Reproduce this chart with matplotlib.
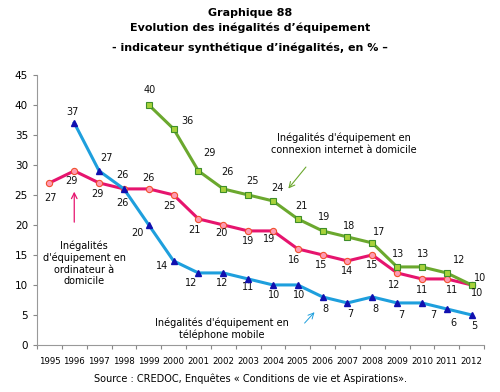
import numpy as np
import matplotlib
matplotlib.use("Agg")
import matplotlib.pyplot as plt

years = list(range(1995, 2013))

# ordinateur a domicile (1995-2012)
ordi = [27, 29, 27, 26, 26, 25, 21, 20, 19, 19, 16, 15, 14, 15, 12, 11, 11, 10]
ordi_lbl = ["27", "29", "29", "26", "26", "25", "21", "20", "19", "19", "16", "15", "14", "15", "12", "11", "11", "10"]
# telephone mobile (1996-2012)
mobile = [37, 29, 26, 20, 14, 12, 12, 11, 10, 10, 8, 7, 8, 7, 7, 6, 5]
mobile_lbl = ["37", "27", "26", "20", "14", "12", "12", "11", "10", "10", "8", "7", "8", "7", "7", "6", "5"]
# connexion internet (1999-2012)
internet = [40, 36, 29, 26, 25, 24, 21, 19, 18, 17, 13, 13, 12, 10]
internet_lbl = ["40", "36", "29", "26", "25", "24", "21", "19", "18", "17", "13", "13", "12", "10"]

# label offsets in points (dx, dy)
ordi_off = [(1, -11), (-2, -7), (-1, -8), (-1, -10), (0, 8), (-3, -8), (-3, -8), (-1, -6), (0, -7), (-3, -6),
            (-3, -8), (-1, -7), (0, -7), (0, -7), (-2, -9), (0, -8), (4, -8), (4, -6)]
mobile_off = [(-1, 8), (5, 9), (-1, 10), (-8, -6), (-8, -4), (-5, -7), (-1, -7), (0, -6), (1, -7), (1, -7),
              (2, -9), (2, -8), (2, -9), (3, -9), (8, -9), (5, -10), (2, -8)]
internet_off = [(1, 11), (10, 6), (8, 13), (3, 12), (3, 10), (3, 9), (3, 9), (1, 10), (1, 8), (5, 8),
                (1, 9), (1, 9), (9, 9), (6, 5)]

fig = plt.figure(figsize=(5, 3.92), dpi=100)
ax = fig.add_axes([0.074, 0.12, 0.894, 0.689])

x_all = np.arange(len(years))
x_mob = x_all[1:]
x_int = x_all[4:]

pink = "#E6146E"
blue = "#1E9FDD"
green = "#6BA82E"

ax.plot(x_all, ordi, color=pink, lw=2.2, marker="o", ms=4.5, mfc="#FF9AB4", mec="#F0502D", mew=0.8, zorder=3)
ax.plot(x_mob, mobile, color=blue, lw=2.2, marker="^", ms=4, mfc="#1010B0", mec="#1010B0", zorder=4)
ax.plot(x_int, internet, color=green, lw=2.2, marker="s", ms=4.5, mfc="#A8D23A", mec="#3E8E2A", mew=0.8, zorder=3)

for xs, ys, lbls, offs in [(x_all, ordi, ordi_lbl, ordi_off),
                           (x_mob, mobile, mobile_lbl, mobile_off),
                           (x_int, internet, internet_lbl, internet_off)]:
    for x, y, t, (dx, dy) in zip(xs, ys, lbls, offs):
        ax.annotate(t, (x, y), xytext=(dx, dy), textcoords="offset points",
                    ha="center", va="center", fontsize=7, color="#111111")

ax.set_xlim(-0.5, len(years) - 0.5)
ax.set_ylim(0, 45)
ax.set_yticks(range(0, 46, 5))
ax.set_xticks(np.arange(-0.5, len(years), 1))
ax.set_xticklabels([])
ax.set_xticks(x_all, minor=True)
ax.set_xticklabels([str(y) for y in years], minor=True, fontsize=6.2)
ax.tick_params(axis="x", which="minor", length=0, pad=9)
ax.tick_params(axis="x", which="major", length=3, direction="out", color="#888888")
ax.tick_params(axis="y", labelsize=7.5, length=3, direction="out", color="#888888")
for s in ["top", "right"]:
    ax.spines[s].set_visible(False)
for s in ["left", "bottom"]:
    ax.spines[s].set_color("#999999")

# annotations
ax.text(11.85, 33.5, "Inégalités d'équipement en\nconnexion internet à domicile",
        ha="center", va="center", fontsize=7, linespacing=1.2)
ax.annotate("", xy=(9.55, 25.7), xytext=(10.4, 30.0),
            arrowprops=dict(arrowstyle="->", color=green, lw=0.8))
ax.text(1.4, 13.6, "Inégalités\nd'équipement en\nordinateur à\ndomicile",
        ha="center", va="center", fontsize=7, linespacing=1.2)
ax.annotate("", xy=(1.0, 26.0), xytext=(1.0, 20.0),
            arrowprops=dict(arrowstyle="->", color=pink, lw=0.9))
ax.text(6.95, 2.7, "Inégalités d'équipement en\ntéléphone mobile",
        ha="center", va="center", fontsize=7, linespacing=1.2)
ax.annotate("", xy=(10.75, 5.8), xytext=(10.2, 3.3),
            arrowprops=dict(arrowstyle="->", color=blue, lw=0.7))

fig.text(0.5, 0.967, "Graphique 88", ha="center", va="center", fontsize=8, fontweight="bold")
fig.text(0.5, 0.928, "Evolution des inégalités d’équipement", ha="center", va="center",
         fontsize=8, fontweight="bold")
fig.text(0.5, 0.877, "- indicateur synthétique d’inégalités, en % –", ha="center", va="center",
         fontsize=8, fontweight="bold")
fig.text(0.5, 0.035, "Source : CREDOC, Enquêtes « Conditions de vie et Aspirations».",
         ha="center", va="center", fontsize=7)

fig.savefig("out.png", dpi=100)
